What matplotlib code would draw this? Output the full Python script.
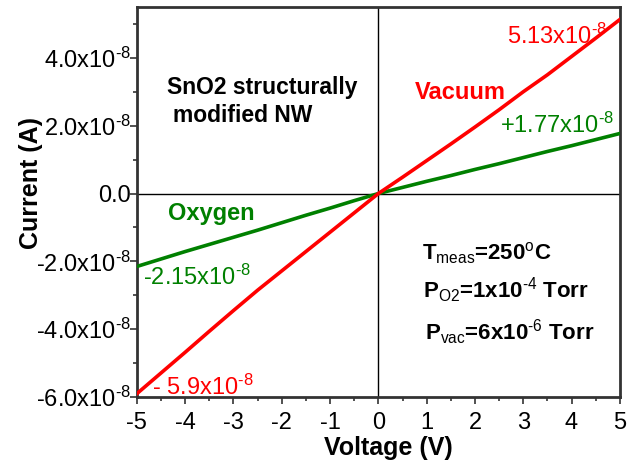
import numpy as np
import matplotlib
matplotlib.use("Agg")
import matplotlib.pyplot as plt
from matplotlib.ticker import MultipleLocator, FixedLocator

plt.rcParams['font.family'] = ['Liberation Sans', 'DejaVu Sans']
plt.rcParams['mathtext.fontset'] = 'custom'
plt.rcParams['mathtext.rm'] = 'Liberation Sans'
plt.rcParams['mathtext.it'] = 'Liberation Sans:italic'
plt.rcParams['mathtext.bf'] = 'Liberation Sans:bold'

# I-V data (current in units of 1e-8 A)
voltage = [-5, -4.5, -4, -3.5, -3, -2.5, -2, -1.5, -1, -0.5, 0,
           0.5, 1, 1.5, 2, 2.5, 3, 3.5, 4, 4.5, 5]
vacuum = [-5.9, -5.29, -4.68, -4.06, -3.45, -2.85, -2.28, -1.71, -1.14, -0.57, 0,
          0.48, 0.97, 1.46, 1.96, 2.47, 3.0, 3.5, 4.04, 4.58, 5.13]
oxygen = [-2.15, -1.93, -1.71, -1.5, -1.29, -1.08, -0.86, -0.64, -0.43, -0.21, 0,
          0.18, 0.36, 0.53, 0.71, 0.88, 1.06, 1.24, 1.41, 1.59, 1.77]

H = '\u2010'  # plain hyphen inside mathtext (avoids the wide minus)
yticks = [-6e-8, -4e-8, -2e-8, 0, 2e-8, 4e-8]
ytick_labels = ['-6.0x10$^{%s8}$' % H, '-4.0x10$^{%s8}$' % H, '-2.0x10$^{%s8}$' % H, '0.0',
                '2.0x10$^{%s8}$' % H, '4.0x10$^{%s8}$' % H]
xticks = [-5, -4, -3, -2, -1, 0, 1, 2, 3, 4, 5]

red = '#ff0000'
green = '#008000'

fig = plt.figure(figsize=(6.28, 4.66), dpi=100)
ax = fig.add_axes([0.218, 0.148, 0.769, 0.837])

ax.axhline(0, color='black', lw=1.0, zorder=1)
ax.axvline(0, color='black', lw=1.0, zorder=1)

ax.plot(voltage, np.array(oxygen) * 1e-8, color=green, lw=2.6, zorder=3)
ax.plot(voltage, np.array(vacuum) * 1e-8, color=red, lw=2.6, zorder=3)

ax.set_xlim(-5, 5)
ax.set_ylim(-6e-8, 5.5e-8)
ax.xaxis.set_major_locator(FixedLocator(xticks))
ax.xaxis.set_minor_locator(MultipleLocator(0.5))
ax.yaxis.set_major_locator(FixedLocator(yticks))
ax.yaxis.set_minor_locator(MultipleLocator(1e-8))
ax.set_yticklabels(ytick_labels)
ax.set_xticklabels([str(t) for t in xticks])

ax.tick_params(which='both', direction='out', top=False, right=False, color='#333333', width=1.2)
ax.tick_params(which='major', length=5, labelsize=17)
ax.tick_params(which='minor', length=3)
ax.tick_params(axis='y', pad=-1)
ax.tick_params(axis='x', pad=6)

for s in ax.spines.values():
    s.set_linewidth(2)
    s.set_color('#333333')

ax.set_xlabel('Voltage (V)', fontsize=18, fontweight='bold')
ax.set_ylabel('Current (A)', fontsize=18, fontweight='bold')
ax.xaxis.set_label_coords(0.52, -0.1)
ax.yaxis.set_label_coords(-0.195, 0.549)

# annotations
ax.text(-4.38, 3.13e-8, 'SnO2 structurally', fontsize=16.5, fontweight='bold', va='center')
ax.text(-4.25, 2.3e-8, 'modified NW', fontsize=16.5, fontweight='bold', va='center')
ax.text(0.76, 2.98e-8, 'Vacuum', fontsize=17, fontweight='bold', color=red, va='center')
ax.text(-4.36, -0.59e-8, 'Oxygen', fontsize=17, fontweight='bold', color=green, va='center')
ax.text(2.66, 4.63e-8, '5.13x10$^{%s8}$' % H, fontsize=17, color=red, va='center')
ax.text(2.52, 2.0e-8, '+1.77x10$^{%s8}$' % H, fontsize=17, color=green, va='center')
ax.text(-4.88, -2.48e-8, '-2.15x10$^{%s8}$' % H, fontsize=17, color=green, va='center')
ax.text(-4.69, -5.72e-8, '- 5.9x10$^{%s8}$' % H, fontsize=17, color=red, va='center')

ax.text(0.9, -1.77e-8, r'T$_{\mathrm{meas}}$=250$^{\mathrm{o}}$C', fontsize=16,
        fontweight='bold', va='center')
ax.text(0.92, -2.86e-8, 'P$_{\\mathrm{O2}}$=1x10$^{\\mathrm{%s4}}$ Torr' % H, fontsize=16,
        fontweight='bold', va='center')
ax.text(0.96, -4.1e-8, 'P$_{\\mathrm{vac}}$=6x10$^{\\mathrm{%s6}}$ Torr' % H, fontsize=16,
        fontweight='bold', va='center')

fig.savefig('out.png', dpi=100)
